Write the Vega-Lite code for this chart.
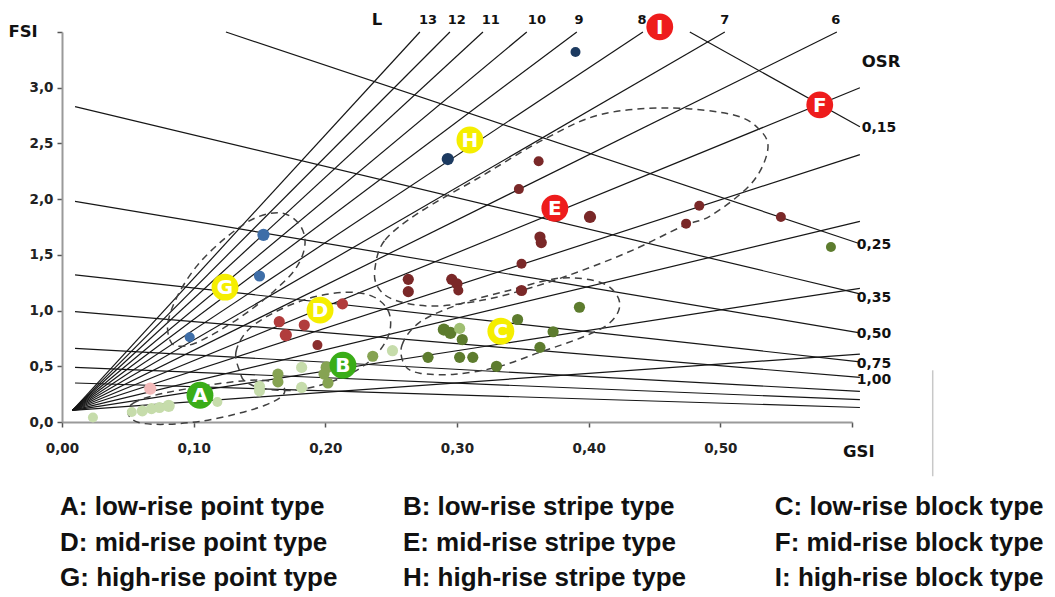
{
"$schema": "https://vega.github.io/schema/vega-lite/v6.json",
"width": 790, "height": 390,
"autosize": {"type": "none"},
"padding": {"left": 62, "top": 32, "right": 203, "bottom": 175},
"background": "white",
"config": {"view": {"stroke": null}, "font": "DejaVu Sans"},
"datasets": {
"llines": [
{"id":"13","o":0,"g":0.008,"f":0.105},{"id":"13","o":1,"g":0.2718,"f":3.5},
{"id":"12","o":0,"g":0.008,"f":0.105},{"id":"12","o":1,"g":0.2946,"f":3.5},
{"id":"11","o":0,"g":0.008,"f":0.105},{"id":"11","o":1,"g":0.3197,"f":3.5},
{"id":"10","o":0,"g":0.008,"f":0.105},{"id":"10","o":1,"g":0.353,"f":3.5},
{"id":"9","o":0,"g":0.008,"f":0.105},{"id":"9","o":1,"g":0.391,"f":3.5},
{"id":"8","o":0,"g":0.008,"f":0.105},{"id":"8","o":1,"g":0.4412,"f":3.5},
{"id":"7","o":0,"g":0.008,"f":0.105},{"id":"7","o":1,"g":0.5034,"f":3.5},
{"id":"6","o":0,"g":0.008,"f":0.105},{"id":"6","o":1,"g":0.5885,"f":3.5},
{"id":"5","o":0,"g":0.008,"f":0.105},{"id":"5","o":1,"g":0.606,"f":3.0},
{"id":"4","o":0,"g":0.008,"f":0.105},{"id":"4","o":1,"g":0.606,"f":2.4},
{"id":"3","o":0,"g":0.008,"f":0.105},{"id":"3","o":1,"g":0.606,"f":1.8},
{"id":"2","o":0,"g":0.008,"f":0.105},{"id":"2","o":1,"g":0.606,"f":1.2},
{"id":"1","o":0,"g":0.008,"f":0.105},{"id":"1","o":1,"g":0.606,"f":0.61}
],
"osr": [
{"id":"0.15","o":0,"g":0.4768,"f":3.5},{"id":"0.15","o":1,"g":0.606,"f":2.65},
{"id":"0.25","o":0,"g":0.1245,"f":3.5},{"id":"0.25","o":1,"g":0.606,"f":1.6},
{"id":"0.35","o":0,"g":0.0099,"f":2.83},{"id":"0.35","o":1,"g":0.606,"f":1.15},
{"id":"0.50","o":0,"g":0.0099,"f":1.98},{"id":"0.50","o":1,"g":0.606,"f":0.8},
{"id":"0.75","o":0,"g":0.0099,"f":1.32},{"id":"0.75","o":1,"g":0.606,"f":0.54},
{"id":"1.00","o":0,"g":0.0099,"f":0.99},{"id":"1.00","o":1,"g":0.606,"f":0.4},
{"id":"1.5","o":0,"g":0.0099,"f":0.66},{"id":"1.5","o":1,"g":0.606,"f":0.275},
{"id":"2","o":0,"g":0.0099,"f":0.49},{"id":"2","o":1,"g":0.606,"f":0.2},
{"id":"3","o":0,"g":0.0099,"f":0.35},{"id":"3","o":1,"g":0.606,"f":0.13}
],
"ell": [
{"id":"G","o":0,"g":0.082,"f":0.734},{"id":"G","o":1,"g":0.0805,"f":0.896},{"id":"G","o":2,"g":0.088,"f":1.138},{"id":"G","o":3,"g":0.103,"f":1.408},{"id":"G","o":4,"g":0.124,"f":1.65},{"id":"G","o":5,"g":0.1465,"f":1.83},{"id":"G","o":6,"g":0.167,"f":1.875},{"id":"G","o":7,"g":0.1807,"f":1.767},{"id":"G","o":8,"g":0.1845,"f":1.588},{"id":"G","o":9,"g":0.1777,"f":1.381},{"id":"G","o":10,"g":0.1617,"f":1.183},{"id":"G","o":11,"g":0.141,"f":0.986},{"id":"G","o":12,"g":0.12,"f":0.824},{"id":"G","o":13,"g":0.101,"f":0.707},{"id":"G","o":14,"g":0.088,"f":0.68},
{"id":"E","o":0,"g":0.2377,"f":1.381},{"id":"E","o":1,"g":0.2453,"f":1.632},{"id":"E","o":2,"g":0.2718,"f":1.884},{"id":"E","o":3,"g":0.3174,"f":2.198},{"id":"E","o":4,"g":0.3652,"f":2.531},{"id":"E","o":5,"g":0.4085,"f":2.757},{"id":"E","o":6,"g":0.4594,"f":2.818},{"id":"E","o":7,"g":0.5095,"f":2.757},{"id":"E","o":8,"g":0.53,"f":2.621},{"id":"E","o":9,"g":0.536,"f":2.441},{"id":"E","o":10,"g":0.5239,"f":2.145},{"id":"E","o":11,"g":0.4935,"f":1.857},{"id":"E","o":12,"g":0.4715,"f":1.758},{"id":"E","o":13,"g":0.4336,"f":1.543},{"id":"E","o":14,"g":0.3956,"f":1.363},{"id":"E","o":15,"g":0.3576,"f":1.21},{"id":"E","o":16,"g":0.3197,"f":1.094},{"id":"E","o":17,"g":0.2817,"f":1.04},{"id":"E","o":18,"g":0.2528,"f":1.094},{"id":"E","o":19,"g":0.2399,"f":1.21},
{"id":"D","o":0,"g":0.1352,"f":0.447},{"id":"D","o":1,"g":0.1321,"f":0.626},{"id":"D","o":2,"g":0.1412,"f":0.824},{"id":"D","o":3,"g":0.1617,"f":0.986},{"id":"D","o":4,"g":0.1883,"f":1.112},{"id":"D","o":5,"g":0.2149,"f":1.165},{"id":"D","o":6,"g":0.2354,"f":1.13},{"id":"D","o":7,"g":0.2475,"f":1.004},{"id":"D","o":8,"g":0.2491,"f":0.824},{"id":"D","o":9,"g":0.2415,"f":0.644},{"id":"D","o":10,"g":0.2263,"f":0.482},{"id":"D","o":11,"g":0.2035,"f":0.357},{"id":"D","o":12,"g":0.1769,"f":0.285},{"id":"D","o":13,"g":0.1519,"f":0.303},{"id":"D","o":14,"g":0.139,"f":0.366},
{"id":"C","o":0,"g":0.2604,"f":0.509},{"id":"C","o":1,"g":0.2582,"f":0.689},{"id":"C","o":2,"g":0.2718,"f":0.896},{"id":"C","o":3,"g":0.3022,"f":1.058},{"id":"C","o":4,"g":0.3402,"f":1.183},{"id":"C","o":5,"g":0.3781,"f":1.291},{"id":"C","o":6,"g":0.4085,"f":1.255},{"id":"C","o":7,"g":0.4214,"f":1.138},{"id":"C","o":8,"g":0.4229,"f":1.004},{"id":"C","o":9,"g":0.4138,"f":0.869},{"id":"C","o":10,"g":0.3933,"f":0.752},{"id":"C","o":11,"g":0.3629,"f":0.626},{"id":"C","o":12,"g":0.3303,"f":0.492},{"id":"C","o":13,"g":0.2984,"f":0.429},{"id":"C","o":14,"g":0.2718,"f":0.438},
{"id":"A","o":0,"g":0.0501,"f":0.078},{"id":"A","o":1,"g":0.0539,"f":0.168},{"id":"A","o":2,"g":0.0706,"f":0.24},{"id":"A","o":3,"g":0.0972,"f":0.303},{"id":"A","o":4,"g":0.1276,"f":0.357},{"id":"A","o":5,"g":0.1519,"f":0.375},{"id":"A","o":6,"g":0.167,"f":0.33},{"id":"A","o":7,"g":0.1678,"f":0.24},{"id":"A","o":8,"g":0.1541,"f":0.15},{"id":"A","o":9,"g":0.1314,"f":0.069},{"id":"A","o":10,"g":0.1048,"f":0.006},{"id":"A","o":11,"g":0.0782,"f":-0.021},{"id":"A","o":12,"g":0.0577,"f":-0.003}
],
"pts": [
{"k":"A","sz":"s","g":0.0235,"f":0.04},{"k":"A","sz":"s","g":0.053,"f":0.09},{"k":"A","sz":"m","g":0.061,"f":0.1},{"k":"A","sz":"m","g":0.068,"f":0.12},{"k":"A","sz":"m","g":0.074,"f":0.13},{"k":"A","sz":"l","g":0.081,"f":0.145},{"k":"A","sz":"s","g":0.118,"f":0.18},{"k":"A","sz":"m","g":0.15,"f":0.32},{"k":"A","sz":"m","g":0.15,"f":0.28},{"k":"A","sz":"m","g":0.182,"f":0.49},{"k":"A","sz":"m","g":0.182,"f":0.31},{"k":"A","sz":"m","g":0.251,"f":0.64},
{"k":"P","sz":"l","g":0.067,"f":0.3},
{"k":"B","sz":"m","g":0.164,"f":0.43},{"k":"B","sz":"m","g":0.164,"f":0.36},{"k":"B","sz":"l","g":0.201,"f":0.49},{"k":"B","sz":"m","g":0.199,"f":0.43},{"k":"B","sz":"m","g":0.202,"f":0.35},{"k":"B","sz":"m","g":0.236,"f":0.59},
{"k":"C","sz":"m","g":0.278,"f":0.58},{"k":"C","sz":"l","g":0.29,"f":0.83},{"k":"C","sz":"l","g":0.295,"f":0.8},{"k":"C","sz":"m","g":0.304,"f":0.74},{"k":"C","sz":"m","g":0.346,"f":0.92},{"k":"C","sz":"m","g":0.373,"f":0.81},{"k":"C","sz":"m","g":0.393,"f":1.03},{"k":"C","sz":"m","g":0.363,"f":0.67},{"k":"C","sz":"m","g":0.302,"f":0.58},{"k":"C","sz":"m","g":0.312,"f":0.58},{"k":"C","sz":"m","g":0.33,"f":0.5},{"k":"C","sz":"s","g":0.584,"f":1.57},
{"k":"CL","sz":"m","g":0.302,"f":0.84},
{"k":"D","sz":"m","g":0.213,"f":1.06},{"k":"D","sz":"m","g":0.165,"f":0.9},{"k":"D","sz":"l","g":0.17,"f":0.78},{"k":"D","sz":"m","g":0.184,"f":0.87},
{"k":"DD","sz":"s","g":0.194,"f":0.69},
{"k":"E","sz":"s","g":0.362,"f":2.34},{"k":"E","sz":"s","g":0.347,"f":2.09},{"k":"E","sz":"l","g":0.401,"f":1.84},{"k":"E","sz":"m","g":0.363,"f":1.66},{"k":"E","sz":"m","g":0.364,"f":1.61},{"k":"E","sz":"s","g":0.349,"f":1.42},{"k":"E","sz":"m","g":0.263,"f":1.28},{"k":"E","sz":"m","g":0.263,"f":1.17},{"k":"E","sz":"m","g":0.296,"f":1.28},{"k":"E","sz":"m","g":0.3,"f":1.24},{"k":"E","sz":"s","g":0.301,"f":1.18},{"k":"E","sz":"m","g":0.349,"f":1.18},{"k":"E","sz":"s","g":0.484,"f":1.94},{"k":"E","sz":"s","g":0.474,"f":1.78},{"k":"E","sz":"s","g":0.546,"f":1.84},
{"k":"G","sz":"l","g":0.153,"f":1.68},{"k":"G","sz":"m","g":0.15,"f":1.31},{"k":"G","sz":"s","g":0.097,"f":0.76},
{"k":"H","sz":"s","g":0.39,"f":3.32},{"k":"H","sz":"l","g":0.293,"f":2.36}
],
"marks": [
{"t":"A","c":"g","g":0.1048,"f":0.24},{"t":"B","c":"g","g":0.2134,"f":0.509},{"t":"C","c":"y","g":0.3333,"f":0.815},
{"t":"D","c":"y","g":0.196,"f":1.004},{"t":"E","c":"r","g":0.3743,"f":1.918},{"t":"F","c":"r","g":0.5755,"f":2.846},
{"t":"G","c":"y","g":0.1238,"f":1.21},{"t":"H","c":"y","g":0.3098,"f":2.531},{"t":"I","c":"r","g":0.454,"f":3.546}
],
"big": [
{"t":"FSI","g":-0.0296,"f":3.497},{"t":"GSI","g":0.6052,"f":-0.272},{"t":"L","g":0.2392,"f":3.605}
],
"osrt": [{"t":"OSR","g":0.6074,"f":3.228}],
"lnum": [
{"t":"13","g":0.278,"f":3.605},{"t":"12","g":0.2999,"f":3.605},{"t":"11","g":0.3257,"f":3.605},{"t":"10","g":0.3607,"f":3.605},{"t":"9","g":0.3926,"f":3.605},{"t":"8","g":0.4405,"f":3.605},{"t":"7","g":0.5034,"f":3.605},{"t":"6","g":0.5877,"f":3.605}
],
"olab": [
{"t":"0,15","g":0.6074,"f":2.636},{"t":"0,25","g":0.6036,"f":1.586},{"t":"0,35","g":0.6036,"f":1.11},{"t":"0,50","g":0.6036,"f":0.787},{"t":"0,75","g":0.6036,"f":0.518},{"t":"1,00","g":0.6036,"f":0.374}
],
"leg": [
{"t":"A: low-rise point type","g":-0.0015,"f":-0.766},{"t":"B: low-rise stripe type","g":0.2589,"f":-0.766},{"t":"C: low-rise block type","g":0.5414,"f":-0.766},
{"t":"D: mid-rise point type","g":-0.0015,"f":-1.09},{"t":"E: mid-rise stripe type","g":0.2589,"f":-1.09},{"t":"F: mid-rise block type","g":0.5414,"f":-1.09},
{"t":"G: high-rise point type","g":-0.0015,"f":-1.396},{"t":"H: high-rise stripe type","g":0.2589,"f":-1.396},{"t":"I: high-rise block type","g":0.5414,"f":-1.396}
],
"vr": [{"g":0.6613,"f":0.464,"f2":-0.487}]
},
"encoding": {
"x": {"field":"g","type":"quantitative","title":null,
 "scale":{"domain":[0,0.6],"nice":false,"zero":false},
 "axis":{"values":[0,0.1,0.2,0.3,0.4,0.5,0.6],"labelExpr":"datum.value > 0.59 ? '' : replace(format(datum.value, '.2f'), '.', ',')","grid":false,"domainColor":"#9a9a9a","domainWidth":2,"tickColor":"#555","tickWidth":1.5,"tickSize":5,"labelFont":"DejaVu Sans","labelFontWeight":"bold","labelFontSize":13.5,"labelColor":"#222","labelPadding":14,"labelFlush":false}},
"y": {"field":"f","type":"quantitative","title":null,
 "scale":{"domain":[0,3.5],"nice":false,"zero":false},
 "axis":{"values":[0,0.5,1,1.5,2,2.5,3,3.5],"labelExpr":"datum.value > 3.4 ? '' : replace(format(datum.value, '.1f'), '.', ',')","grid":false,"domainColor":"#9a9a9a","domainWidth":2,"tickColor":"#555","tickWidth":1.5,"tickSize":5,"labelFont":"DejaVu Sans","labelFontWeight":"bold","labelFontSize":13.5,"labelColor":"#222","labelPadding":4,"labelFlush":false}}
},
"layer": [
{"data":{"name":"vr"},"mark":{"type":"rule","color":"#c8c8c8","strokeWidth":1.5},"encoding":{"y2":{"field":"f2"}}},
{"data":{"name":"llines"},"mark":{"type":"line","color":"#161616","strokeWidth":1.2},"encoding":{"detail":{"field":"id"},"order":{"field":"o"}}},
{"data":{"name":"osr"},"mark":{"type":"line","color":"#161616","strokeWidth":1.2},"encoding":{"detail":{"field":"id"},"order":{"field":"o"}}},
{"data":{"name":"ell"},"mark":{"type":"line","color":"#404040","strokeWidth":1.5,"strokeDash":[7,5],"interpolate":"cardinal-closed"},"encoding":{"detail":{"field":"id"},"order":{"field":"o"}}},
{"data":{"name":"pts"},"mark":{"type":"circle","opacity":1},"encoding":{
 "color":{"field":"k","type":"nominal","legend":null,"scale":{"domain":["A","P","B","C","CL","D","DD","E","G","H"],"range":["#c6dcab","#f3baba","#86a352","#5d7c2e","#9fbf72","#b13c3c","#8a2d2d","#7a2828","#3e6ea8","#1c3a60"]}},
 "size":{"field":"sz","type":"ordinal","legend":null,"scale":{"domain":["s","m","l"],"range":[100,150,280]}}}},
{"data":{"name":"lnum"},"mark":{"type":"text","font":"DejaVu Sans","fontWeight":"bold","fontSize":13,"align":"center","baseline":"middle","color":"#111"},"encoding":{"text":{"field":"t"}}},
{"data":{"name":"marks"},"mark":{"type":"circle","opacity":1,"size":720},"encoding":{
 "color":{"field":"c","type":"nominal","legend":null,"scale":{"domain":["g","y","r"],"range":["#3aad18","#f5ee00","#ee1c1c"]}}}},
{"data":{"name":"marks"},"mark":{"type":"text","font":"DejaVu Sans","fontWeight":"bold","fontSize":20,"align":"center","baseline":"middle","color":"white","dy":1},"encoding":{"text":{"field":"t"}}},
{"data":{"name":"big"},"mark":{"type":"text","font":"DejaVu Sans","fontWeight":"bold","fontSize":16.5,"align":"center","baseline":"middle","color":"#111"},"encoding":{"text":{"field":"t"}}},
{"data":{"name":"osrt"},"mark":{"type":"text","font":"DejaVu Sans","fontWeight":"bold","fontSize":16.5,"align":"left","baseline":"middle","color":"#111"},"encoding":{"text":{"field":"t"}}},
{"data":{"name":"olab"},"mark":{"type":"text","font":"DejaVu Sans","fontWeight":"bold","fontSize":14,"align":"left","baseline":"middle","color":"#111"},"encoding":{"text":{"field":"t"}}},
{"data":{"name":"leg"},"mark":{"type":"text","font":"Liberation Sans","fontWeight":"bold","fontSize":26,"align":"left","baseline":"middle","color":"#111"},"encoding":{"text":{"field":"t"}}}
],
"resolve": {"scale": {"color": "independent", "size": "independent"}}
}
